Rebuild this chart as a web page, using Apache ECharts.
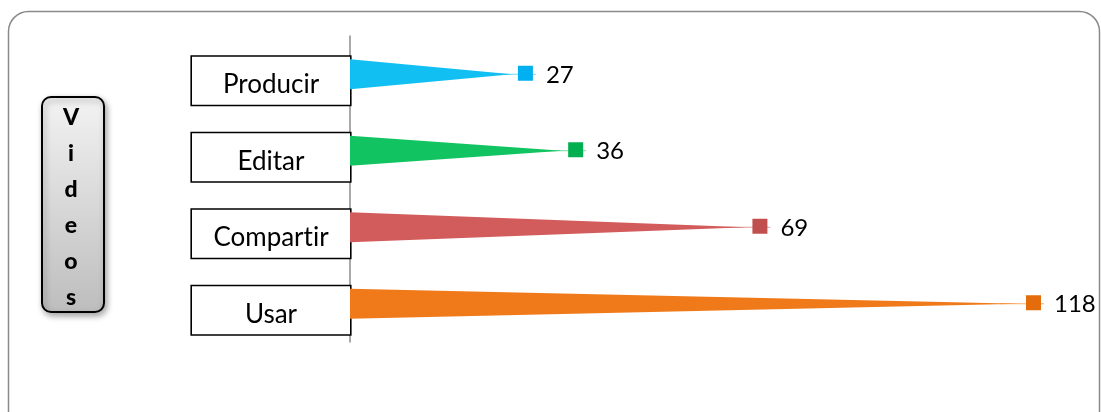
<!DOCTYPE html>
<html>
<head>
<meta charset="utf-8">
<script src="https://cdn.jsdelivr.net/npm/echarts@6/dist/echarts.min.js"></script>
<style>
  html, body { margin: 0; padding: 0; background: #fff; }
  #chart { width: 1101px; height: 412px; }
</style>
</head>
<body>
<div id="chart"></div>
<script>
// Activities with videos and how many respondents chose each one
const categories = ['Producir', 'Editar', 'Compartir', 'Usar'];
const values = [27, 36, 69, 118];
const sideTitle = 'Videos';

// Cone fill and end-marker colour per activity
const coneColors = ['#12BFF3', '#12C461', '#D25B5B', '#F07A19'];
const markerColors = ['#00B0F0', '#00B050', '#C0504D', '#E46C0A'];

const FONT = 'Lato, "Open Sans", sans-serif';

const chart = echarts.init(document.getElementById('chart'), null, { renderer: 'canvas' });

const seriesData = values.map((v, i) => [v, i]);

function renderCone(params, api) {
  const idx = params.dataIndex;
  const v = api.value(0);
  const cat = api.value(1);
  const tip = api.coord([v, cat]);
  const base = params.coordSys.x;
  const half = 15;
  const cy = tip[1];
  const mx = tip[0] + 6;
  const size = 15;
  return {
    type: 'group',
    children: [
      {
        type: 'polygon',
        shape: { points: [[base, cy - half], [base, cy + half], [tip[0], cy]] },
        style: { fill: coneColors[idx] }
      },
      {
        type: 'line',
        shape: { x1: tip[0] - 20, y1: cy, x2: mx + size + 3, y2: cy },
        style: { stroke: coneColors[idx], lineWidth: 1, opacity: 0.6 }
      },
      {
        type: 'rect',
        shape: { x: mx, y: cy - size / 2 - 1, width: size, height: size },
        style: { fill: markerColors[idx] }
      },
      {
        type: 'text',
        style: {
          x: mx + size + 13,
          y: cy + 1,
          text: String(v),
          fontFamily: FONT,
          fontSize: 24,
          fill: '#000',
          verticalAlign: 'middle',
          align: 'left'
        }
      }
    ]
  };
}

// Zero-width non-joiner keeps "t" and "i" as separate glyphs (no ligature)
const noLigature = (s) => s.replace(/ti/g, 't\u200Ci');

const option = {
  backgroundColor: '#fff',
  animation: false,
  grid: { left: 350, top: 36, bottom: 70, right: 14, containLabel: false },
  xAxis: {
    type: 'value',
    min: -2,
    max: 130,
    show: false
  },
  yAxis: {
    type: 'category',
    data: categories,
    inverse: true,
    axisLine: { show: true, onZero: false, lineStyle: { color: '#8c8c8c', width: 1.5 } },
    axisTick: { show: false },
    splitLine: { show: false },
    axisLabel: {
      margin: 0,
      padding: [13, 0, 0, 0],
      formatter: (val) => '{box|' + noLigature(val) + '}',
      rich: {
        box: {
          width: 158,
          height: 40,
          padding: [8, 0, 0, 0],
          align: 'center',
          fontFamily: FONT,
          fontSize: 26,
          color: '#000',
          backgroundColor: '#fff',
          borderColor: '#000',
          borderWidth: 1.6
        }
      }
    }
  },
  graphic: [
    {
      type: 'rect',
      shape: { x: 8.5, y: 11.5, width: 1091, height: 430, r: 20 },
      style: { fill: 'none', stroke: '#8a8a8a', lineWidth: 1.5 },
      z: -10
    },
    {
      type: 'rect',
      shape: { x: 42, y: 97, width: 62, height: 215, r: 9 },
      style: {
        fill: new echarts.graphic.LinearGradient(0, 0, 0, 1, [
          { offset: 0, color: '#f3f3f3' },
          { offset: 1, color: '#bdbdbd' }
        ]),
        stroke: '#000',
        lineWidth: 2,
        shadowBlur: 6,
        shadowOffsetX: 2,
        shadowOffsetY: 3,
        shadowColor: 'rgba(0,0,0,0.35)'
      }
    },
    {
      type: 'text',
      style: {
        x: 71,
        y: 208,
        text: sideTitle.split('').join('\n'),
        fontFamily: FONT,
        fontWeight: 900,
        fontSize: 23,
        lineHeight: 36,
        fill: '#000',
        align: 'center',
        verticalAlign: 'middle'
      }
    }
  ],
  series: [
    {
      type: 'custom',
      renderItem: renderCone,
      encode: { x: 0, y: 1 },
      data: seriesData,
      clip: false
    }
  ]
};

chart.setOption(option);
</script>
</body>
</html>
